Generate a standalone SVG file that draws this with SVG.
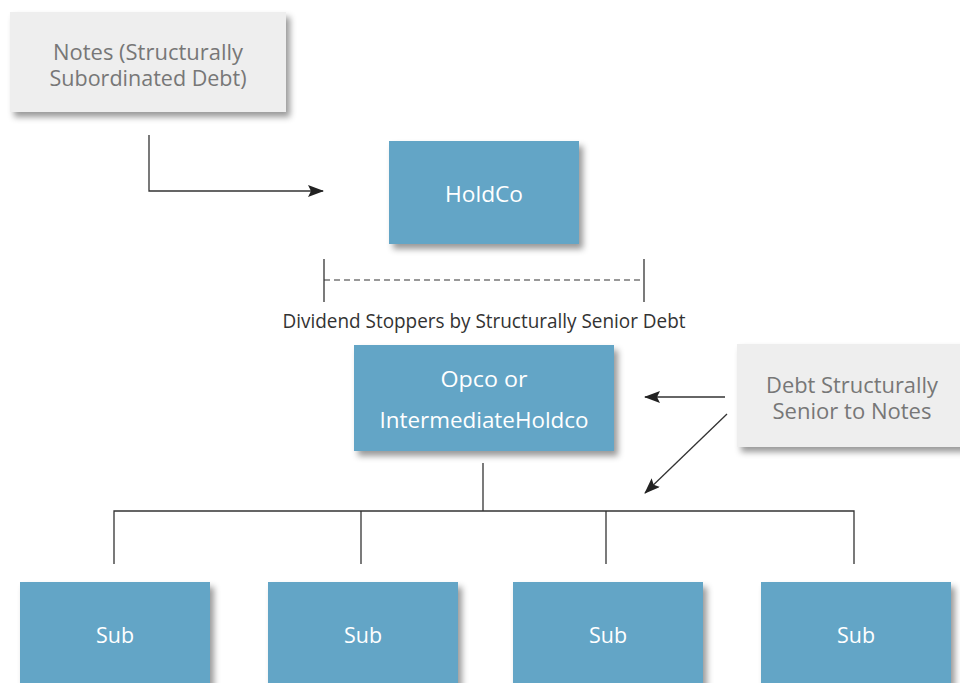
<svg xmlns="http://www.w3.org/2000/svg" width="960" height="683" viewBox="0 0 960 683">
<defs>
<style>
.blue{fill:#64a5c6;}
.gray{fill:#eeeeee;}
.wt{fill:#ffffff;font-family:"Open Sans","Noto Sans",sans-serif;text-anchor:middle;}
.gt{fill:#777777;font-family:"Open Sans","Noto Sans",sans-serif;text-anchor:middle;}
.ln{stroke:#333333;stroke-width:1.3;fill:none;}
</style>
<filter id="sh" x="-10%" y="-10%" width="130%" height="140%">
<feDropShadow dx="4" dy="5" stdDeviation="3" flood-color="#000000" flood-opacity="0.4"/>
</filter>
<marker id="ah" viewBox="0 0 16 12" refX="15" refY="6" markerWidth="16" markerHeight="12" markerUnits="userSpaceOnUse" orient="auto">
<path d="M0,0 L16,6 L0,12 L3,6 Z" fill="#222222"/>
</marker>
</defs>
<rect width="960" height="683" fill="#ffffff"/>

<g id="notes">
<rect class="gray" x="10" y="12" width="276" height="100" filter="url(#sh)"/>
<text class="gt" x="148" y="60" font-size="21" textLength="190" lengthAdjust="spacingAndGlyphs">Notes (Structurally</text>
<text class="gt" x="148" y="86" font-size="21" textLength="197" lengthAdjust="spacingAndGlyphs">Subordinated Debt)</text>
</g>

<g id="holdco">
<rect class="blue" x="389" y="141" width="190" height="103" filter="url(#sh)"/>
<text class="wt" x="484" y="202" font-size="21" textLength="78" lengthAdjust="spacingAndGlyphs">HoldCo</text>
</g>

<g id="dividend-stoppers">
<line x1="324" y1="259" x2="324" y2="302" stroke="#333333" stroke-width="1.3"/>
<line x1="644" y1="259" x2="644" y2="302" stroke="#333333" stroke-width="1.3"/>
<line x1="324" y1="280" x2="644" y2="280" stroke="#333333" stroke-width="1.2" stroke-dasharray="6,4"/>
<text x="484" y="328" font-size="20" fill="#333333" font-family="'Open Sans','Noto Sans',sans-serif" text-anchor="middle" textLength="403" lengthAdjust="spacingAndGlyphs">Dividend Stoppers by Structurally Senior Debt</text>
</g>

<g id="opco">
<rect class="blue" x="354" y="345" width="260" height="106" filter="url(#sh)"/>
<text class="wt" x="484" y="387" font-size="21" textLength="87" lengthAdjust="spacingAndGlyphs">Opco or</text>
<text class="wt" x="484" y="428" font-size="21" textLength="209" lengthAdjust="spacingAndGlyphs">IntermediateHoldco</text>
</g>

<g id="senior-debt">
<rect class="gray" x="737" y="344" width="230" height="103" filter="url(#sh)"/>
<text class="gt" x="852" y="393" font-size="21" textLength="172" lengthAdjust="spacingAndGlyphs">Debt Structurally</text>
<text class="gt" x="852" y="419" font-size="21" textLength="159" lengthAdjust="spacingAndGlyphs">Senior to Notes</text>
</g>

<g id="sub1">
<rect class="blue" x="20" y="582" width="190" height="110" filter="url(#sh)"/>
<text class="wt" x="115" y="643" font-size="21" textLength="38" lengthAdjust="spacingAndGlyphs">Sub</text>
</g>
<g id="sub2">
<rect class="blue" x="268" y="582" width="190" height="110" filter="url(#sh)"/>
<text class="wt" x="363" y="643" font-size="21" textLength="38" lengthAdjust="spacingAndGlyphs">Sub</text>
</g>
<g id="sub3">
<rect class="blue" x="513" y="582" width="190" height="110" filter="url(#sh)"/>
<text class="wt" x="608" y="643" font-size="21" textLength="38" lengthAdjust="spacingAndGlyphs">Sub</text>
</g>
<g id="sub4">
<rect class="blue" x="761" y="582" width="190" height="110" filter="url(#sh)"/>
<text class="wt" x="856" y="643" font-size="21" textLength="38" lengthAdjust="spacingAndGlyphs">Sub</text>
</g>

<g id="connectors">
<path class="ln" d="M149,135 V191 H323" marker-end="url(#ah)"/>
<line class="ln" x1="725" y1="397" x2="645" y2="397" marker-end="url(#ah)"/>
<line class="ln" x1="727" y1="414" x2="645" y2="493" marker-end="url(#ah)"/>
<line class="ln" x1="483" y1="463" x2="483" y2="511"/>
<path class="ln" d="M114,564 V511 H854 V564"/>
<line class="ln" x1="361" y1="511" x2="361" y2="564"/>
<line class="ln" x1="606" y1="511" x2="606" y2="564"/>
</g>
</svg>
